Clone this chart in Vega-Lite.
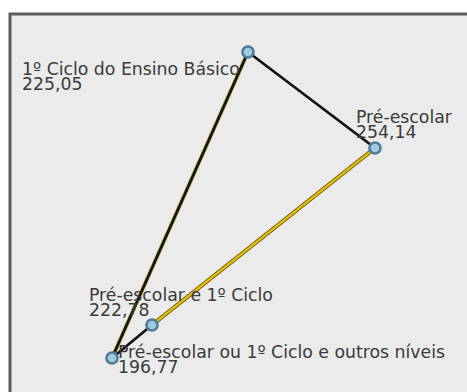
{
  "$schema": "https://vega.github.io/schema/vega-lite/v6.json",
  "width": 460,
  "height": 380,
  "padding": {"left": 10, "top": 14, "right": 0, "bottom": 0},
  "autosize": {"type": "none"},
  "background": "white",
  "view": {"fill": "#ebebeb", "stroke": "#5c5c5c", "strokeWidth": 3},
  "config": {"text": {"font": "DejaVu Sans"}},
  "datasets": {
    "nodes": [
      {"name": "1º Ciclo do Ensino Básico", "valor": "225,05", "x": 248, "y": 52, "lx": 22, "ly": 75},
      {"name": "Pré-escolar", "valor": "254,14", "x": 375, "y": 148, "lx": 356, "ly": 123},
      {"name": "Pré-escolar e 1º Ciclo", "valor": "222,78", "x": 152, "y": 325, "lx": 89, "ly": 301},
      {"name": "Pré-escolar ou 1º Ciclo e outros níveis", "valor": "196,77", "x": 112, "y": 358, "lx": 118, "ly": 358}
    ],
    "edges": [
      {"source": "1º Ciclo do Ensino Básico", "target": "Pré-escolar", "cor": "preto"},
      {"source": "1º Ciclo do Ensino Básico", "target": "Pré-escolar ou 1º Ciclo e outros níveis", "cor": "preto-amarelo"},
      {"source": "Pré-escolar ou 1º Ciclo e outros níveis", "target": "Pré-escolar e 1º Ciclo", "cor": "preto"},
      {"source": "Pré-escolar e 1º Ciclo", "target": "Pré-escolar", "cor": "amarelo"}
    ]
  },
  "layer": [
    {
      "data": {"name": "edges"},
      "transform": [
        {"lookup": "source", "from": {"data": {"name": "nodes"}, "key": "name", "fields": ["x", "y"]}, "as": ["sx", "sy"]},
        {"lookup": "target", "from": {"data": {"name": "nodes"}, "key": "name", "fields": ["x", "y"]}, "as": ["tx", "ty"]},
        {"filter": "datum.cor != 'preto'"}
      ],
      "mark": {"type": "rule", "strokeWidth": 4},
      "encoding": {
        "x": {"field": "sx", "type": "quantitative", "scale": {"domain": [10, 470], "nice": false, "zero": false}, "axis": null},
        "y": {"field": "sy", "type": "quantitative", "scale": {"domain": [14, 394], "nice": false, "zero": false, "reverse": true}, "axis": null},
        "x2": {"field": "tx"},
        "y2": {"field": "ty"},
        "color": {"field": "cor", "type": "nominal", "scale": {"domain": ["preto-amarelo", "amarelo"], "range": ["#b9a648", "#4a3d00"]}, "legend": null}
      }
    },
    {
      "data": {"name": "edges"},
      "transform": [
        {"lookup": "source", "from": {"data": {"name": "nodes"}, "key": "name", "fields": ["x", "y"]}, "as": ["sx", "sy"]},
        {"lookup": "target", "from": {"data": {"name": "nodes"}, "key": "name", "fields": ["x", "y"]}, "as": ["tx", "ty"]}
      ],
      "mark": {"type": "rule", "strokeWidth": 2.7},
      "encoding": {
        "x": {"field": "sx", "type": "quantitative", "scale": {"domain": [10, 470], "nice": false, "zero": false}, "axis": null},
        "y": {"field": "sy", "type": "quantitative", "scale": {"domain": [14, 394], "nice": false, "zero": false, "reverse": true}, "axis": null},
        "x2": {"field": "tx"},
        "y2": {"field": "ty"},
        "stroke": {"field": "cor", "type": "nominal", "scale": {"domain": ["preto", "preto-amarelo", "amarelo"], "range": ["#111111", "#16140a", "#e4bb08"]}, "legend": null}
      }
    },
    {
      "data": {"name": "nodes"},
      "mark": {"type": "point", "shape": "circle", "filled": true, "size": 125, "fill": "#9fcbdf", "stroke": "#4d7a98", "strokeWidth": 2.5, "opacity": 1},
      "encoding": {
        "x": {"field": "x", "type": "quantitative", "scale": {"domain": [10, 470], "nice": false, "zero": false}, "axis": null},
        "y": {"field": "y", "type": "quantitative", "scale": {"domain": [14, 394], "nice": false, "zero": false, "reverse": true}, "axis": null}
      }
    },
    {
      "data": {"name": "nodes"},
      "transform": [{"calculate": "datum.name + '\\n' + datum.valor", "as": "rotulo"}],
      "mark": {"type": "text", "align": "left", "baseline": "alphabetic", "fontSize": 17.3, "lineHeight": 15, "lineBreak": "\n", "color": "#3a3a3a"},
      "encoding": {
        "x": {"field": "lx", "type": "quantitative", "scale": {"domain": [10, 470], "nice": false, "zero": false}, "axis": null},
        "y": {"field": "ly", "type": "quantitative", "scale": {"domain": [14, 394], "nice": false, "zero": false, "reverse": true}, "axis": null},
        "text": {"field": "rotulo"}
      }
    }
  ]
}
